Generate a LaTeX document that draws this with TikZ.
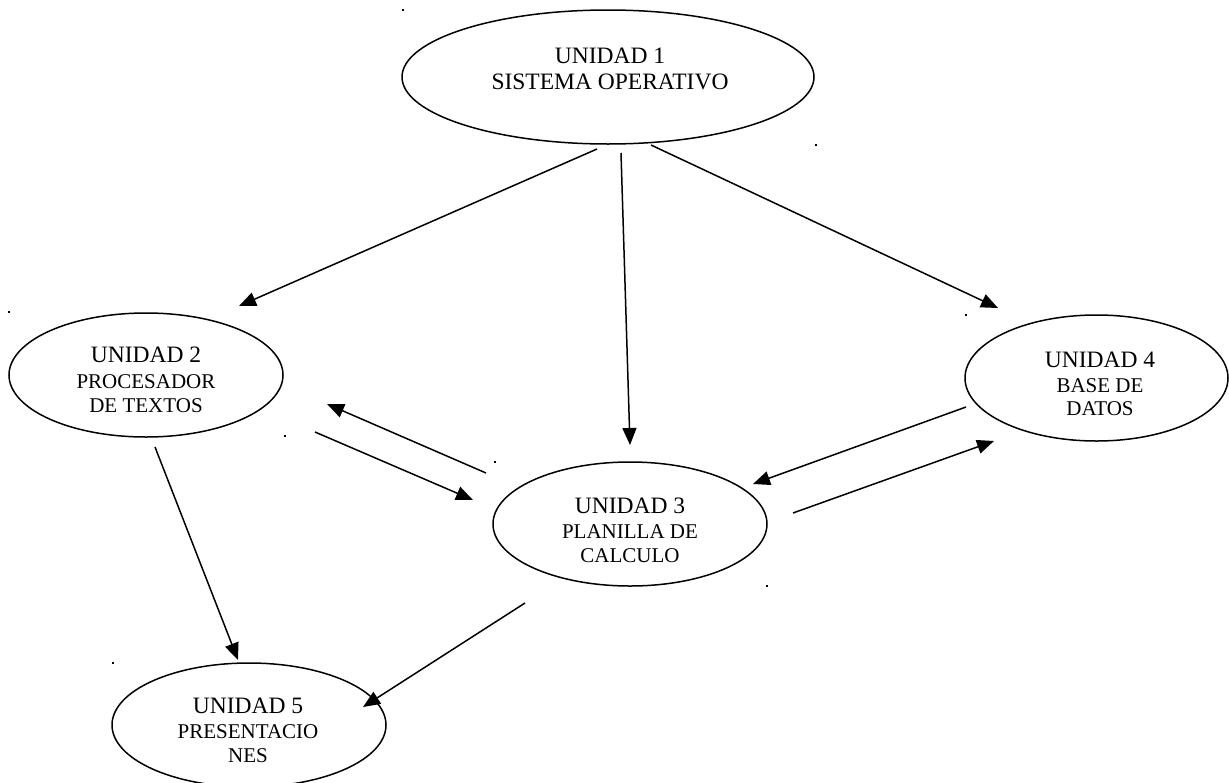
\documentclass[tikz,border=0pt]{standalone}
\usepackage{fontspec}
\setmainfont{Liberation Serif}
\usetikzlibrary{arrows.meta,shapes.geometric}
\begin{document}
\begin{tikzpicture}[x=1pt,y=-1pt,
  unit/.style={draw, ellipse, line width=1.5pt, inner sep=0pt},
  big/.style={anchor=base, inner sep=0pt, font=\fontsize{23.5}{26}\selectfont},
  small/.style={anchor=base, inner sep=0pt, font=\fontsize{21}{25}\selectfont},
  conn/.style={line width=1.5pt, -{Triangle[length=17pt,width=14pt]}},
  speck/.style={fill=black}]
\useasboundingbox (0,0) rectangle (1229,782);
\fill[white] (0,0) rectangle (1229,782);

% ellipses
\node[unit, minimum width=412pt, minimum height=134pt] (e1) at (608,77) {};
\node[unit, minimum width=274pt, minimum height=124pt] (e2) at (146,375) {};
\node[unit, minimum width=274pt, minimum height=124pt] (e3) at (630,524) {};
\node[unit, minimum width=263pt, minimum height=126pt] (e4) at (1096.5,378) {};
\node[unit, minimum width=274pt, minimum height=124pt] (e5) at (249,725) {};

% texts
\node[big] (t1a) at (610,63) {UNIDAD 1};
\node[big] (t1b) at (610,89) {SISTEMA OPERATIVO};
\node[big] (t2a) at (146,362) {UNIDAD 2};
\node[small] (t2b) at (146,388) {PROCESADOR};
\node[small] (t2c) at (146,412) {DE TEXTOS};
\node[big] (t3a) at (630,513) {UNIDAD 3};
\node[small] (t3b) at (630,538) {PLANILLA DE};
\node[small] (t3c) at (630,562) {CALCULO};
\node[big] (t4a) at (1100,367) {UNIDAD 4};
\node[small] (t4b) at (1100,392) {BASE DE};
\node[small] (t4c) at (1100,415) {DATOS};
\node[big] (t5a) at (248,713) {UNIDAD 5};
\node[small] (t5b) at (248,738) {PRESENTACIO};
\node[small] (t5c) at (248,762) {NES};

% connector end points
\coordinate (a1s) at (597,149);  \coordinate (a1e) at (239,306);
\coordinate (a2s) at (621,153);  \coordinate (a2e) at (630,445);
\coordinate (a3s) at (651,145);  \coordinate (a3e) at (998,308);
\coordinate (a4s) at (486,473);  \coordinate (a4e) at (327,404);
\coordinate (a5s) at (315,432);  \coordinate (a5e) at (473,500);
\coordinate (a6s) at (966,407);  \coordinate (a6e) at (753,484);
\coordinate (a7s) at (793,513);  \coordinate (a7e) at (994,441);
\coordinate (a8s) at (155,447);  \coordinate (a8e) at (238,660);
\coordinate (a9s) at (525,603);  \coordinate (a9e) at (363,707);

\draw[conn] (a1s) -- (a1e);
\draw[conn] (a2s) -- (a2e);
\draw[conn] (a3s) -- (a3e);
\draw[conn] (a4s) -- (a4e);
\draw[conn] (a5s) -- (a5e);
\draw[conn] (a6s) -- (a6e);
\draw[conn] (a7s) -- (a7e);
\draw[conn] (a8s) -- (a8e);
\draw[conn] (a9s) -- (a9e);

% stray specks
\foreach \px/\py in {402/9, 815/144, 8/311, 284/435, 494/461, 965/314, 766/585, 112/662}
  \fill[speck] (\px,\py) rectangle +(2,2);
\end{tikzpicture}
\end{document}
